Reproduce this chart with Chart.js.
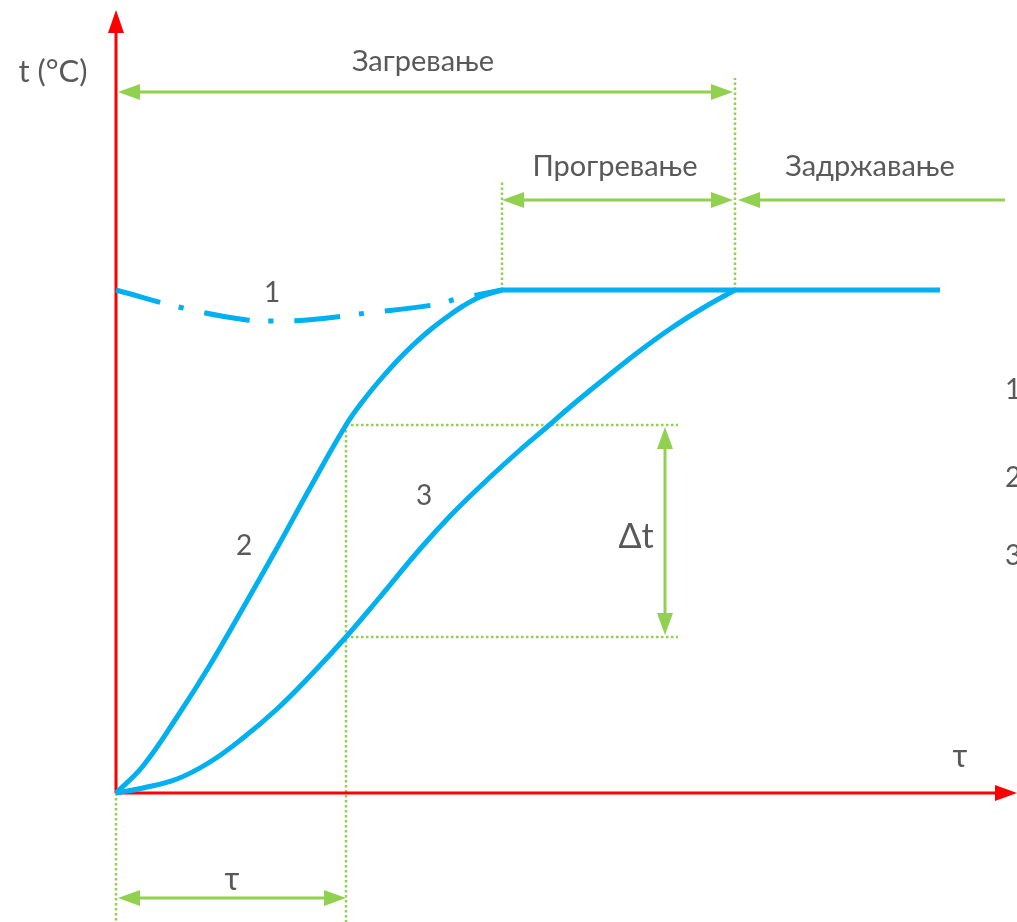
<!DOCTYPE html>
<html><head><meta charset="utf-8">
<script src="https://cdn.jsdelivr.net/npm/chart.js@4/dist/chart.umd.min.js"></script>
<style>html,body{margin:0;padding:0;background:#fff}#wrap{width:1017px;height:922px;position:relative}</style>
</head><body><div id="wrap"><canvas id="c"></canvas></div>
<script>
// Curve 1 — surface temperature during heating (dash-dot)
const curve1X = [0, 0.67, 1.31, 1.57, 1.91, 2.51, 3.17, 3.41, 3.86];
const curve1Y = [5.03, 4.85, 4.73, 4.72, 4.73, 4.80, 4.88, 4.94, 5.03];
// Curve 2 — surface of the part
const curve2X = [0, 0.27, 0.61, 0.94, 1.27, 1.61, 1.94, 2.30, 2.47, 2.64, 2.81, 2.97, 3.14, 3.31, 3.47, 3.64, 3.86];
const curve2Y = [0, 0.27, 0.76, 1.28, 1.85, 2.45, 3.05, 3.68, 3.92, 4.13, 4.32, 4.48, 4.63, 4.76, 4.87, 4.96, 5.03];
// Curve 3 — core of the part
const curve3X = [0, 0.27, 0.61, 0.94, 1.27, 1.61, 1.94, 2.30, 2.64, 3.04, 3.37, 3.71, 4.04, 4.31, 4.54, 4.87, 5.21, 5.54, 5.87, 6.19];
const curve3Y = [0, 0.05, 0.14, 0.31, 0.55, 0.84, 1.17, 1.56, 1.96, 2.44, 2.80, 3.13, 3.43, 3.66, 3.86, 4.13, 4.40, 4.64, 4.85, 5.03];
// Holding level
const holdX = [3.86, 8.24];
const holdY = [5.03, 5.03];
// Characteristic times / temperatures
const tauMark = 2.30;          // τ
const heatEnd = 6.19;          // end of heating (Загревање)
const soakStart = 3.86;        // start of soaking (Прогревање)
const deltaTop = 3.68, deltaBottom = 1.56;  // Δt

const labelsTop = ['Загревање', 'Прогревање', 'Задржавање'];
const axisY = 't (°C)', axisX = 'τ';

const BLUE = '#00B0F0', GREEN = '#92D050', RED = '#FF0000', TEXT = '#595959';
const pts = (xs, ys) => xs.map((x, i) => ({x, y: ys[i]}));

const overlay = {
  id: 'overlay',
  beforeDatasetsDraw(chart) {
    const ctx = chart.ctx, sx = chart.scales.x, sy = chart.scales.y;
    const X = v => sx.getPixelForValue(v), Y = v => sy.getPixelForValue(v);
    ctx.save();
    // dotted guides
    ctx.strokeStyle = GREEN; ctx.lineWidth = 2.5; ctx.setLineDash([2.5, 2.5]);
    const dl = (x1, y1, x2, y2) => { ctx.beginPath(); ctx.moveTo(X(x1), Y(y1)); ctx.lineTo(X(x2), Y(y2)); ctx.stroke(); };
    dl(heatEnd, 5.03, heatEnd, 7.15);
    dl(soakStart, 5.03, soakStart, 6.13);
    dl(tauMark, deltaTop, 5.62, deltaTop);
    dl(tauMark, deltaBottom, 5.62, deltaBottom);
    dl(tauMark, deltaTop, tauMark, -1.35);
    dl(0, 0, 0, -1.35);
    ctx.setLineDash([]);
    // axes
    ctx.strokeStyle = RED; ctx.fillStyle = RED; ctx.lineWidth = 3;
    ctx.beginPath(); ctx.moveTo(X(0), Y(0)); ctx.lineTo(X(0), Y(7.83) + 20); ctx.stroke();
    ctx.beginPath(); ctx.moveTo(X(0), Y(0)); ctx.lineTo(X(9.01) - 20, Y(0)); ctx.stroke();
    ctx.beginPath(); ctx.moveTo(X(0), Y(7.83)); ctx.lineTo(X(0) - 8, Y(7.83) + 23); ctx.lineTo(X(0) + 8, Y(7.83) + 23); ctx.closePath(); ctx.fill();
    ctx.beginPath(); ctx.moveTo(X(9.01), Y(0)); ctx.lineTo(X(9.01) - 22, Y(0) - 8); ctx.lineTo(X(9.01) - 22, Y(0) + 8); ctx.closePath(); ctx.fill();
    ctx.restore();
  },
  afterDatasetsDraw(chart) {
    const ctx = chart.ctx, sx = chart.scales.x, sy = chart.scales.y;
    const X = v => sx.getPixelForValue(v), Y = v => sy.getPixelForValue(v);
    ctx.save();
    ctx.strokeStyle = GREEN; ctx.fillStyle = GREEN; ctx.lineWidth = 3;
    const L = 22, H = 8;
    const head = (tx, ty, dx, dy) => {
      ctx.beginPath(); ctx.moveTo(tx, ty);
      ctx.lineTo(tx - dx * L - dy * H, ty - dy * L + dx * H);
      ctx.lineTo(tx - dx * L + dy * H, ty - dy * L - dx * H);
      ctx.closePath(); ctx.fill();
    };
    const hArrow = (x1, x2, y, hl, hr) => {
      const p1 = X(x1), p2 = X(x2), py = Y(y);
      ctx.beginPath(); ctx.moveTo(p1 + (hl ? L - 2 : 0), py); ctx.lineTo(p2 - (hr ? L - 2 : 0), py); ctx.stroke();
      if (hl) head(p1, py, -1, 0);
      if (hr) head(p2, py, 1, 0);
    };
    hArrow(0.02, heatEnd - 0.02, 7.01, true, true);
    hArrow(soakStart, heatEnd - 0.02, 5.93, true, true);
    hArrow(heatEnd + 0.03, 8.89, 5.93, true, false);
    hArrow(0.02, tauMark, -1.05, true, true);
    // vertical Δt arrow
    const ax = X(5.49), yt = Y(deltaTop) + 2, yb = Y(deltaBottom) - 2;
    ctx.beginPath(); ctx.moveTo(ax, yt + L - 2); ctx.lineTo(ax, yb - L + 2); ctx.stroke();
    head(ax, yt, 0, -1); head(ax, yb, 0, 1);

    // texts
    ctx.fillStyle = TEXT; ctx.textBaseline = 'middle'; ctx.textAlign = 'center';
    const txt = (s, x, y, size, align) => { ctx.font = size + 'px Lato'; ctx.textAlign = align || 'center'; ctx.fillText(s, X(x), Y(y)); };
    txt(labelsTop[0], 3.07, 7.31, 29);
    txt(labelsTop[1], 4.99, 6.26, 29);
    txt(labelsTop[2], 7.54, 6.26, 29);
    txt(axisY, -0.63, 7.21, 31);
    txt(axisX, 8.44, 0.36, 32);
    txt(axisX, 1.16, -0.87, 32);
    txt('Δt', 5.20, 2.56, 34);
    txt('1', 1.56, 5.00, 28);
    txt('2', 1.28, 2.47, 28);
    txt('3', 3.08, 2.97, 28);
    txt('1', 8.89, 4.03, 28, 'left');
    txt('2', 8.89, 3.15, 28, 'left');
    txt('3', 8.89, 2.37, 28, 'left');
    ctx.restore();
  }
};

const common = {showLine: true, borderColor: BLUE, borderWidth: 5, pointRadius: 0, fill: false, tension: 0.4, borderCapStyle: 'butt', borderJoinStyle: 'round', clip: false};
new Chart(document.getElementById('c'), {
  type: 'scatter',
  data: {
    datasets: [
      Object.assign({label: '1', data: pts(curve1X, curve1Y), borderDash: [46, 19, 5, 21]}, common),
      Object.assign({label: '2', data: pts(curve2X, curve2Y)}, common),
      Object.assign({label: '3', data: pts(curve3X, curve3Y)}, common),
      Object.assign({label: 'hold', data: pts(holdX, holdY), tension: 0}, common)
    ]
  },
  options: {
    responsive: true, maintainAspectRatio: false, animation: false,
    layout: {padding: {left: 116, right: 0, top: 10, bottom: 129}},
    scales: {
      x: {type: 'linear', min: 0, max: 9.01, display: false},
      y: {type: 'linear', min: 0, max: 7.83, display: false}
    },
    plugins: {legend: {display: false}, tooltip: {enabled: false}}
  },
  plugins: [overlay]
});
</script></body></html>
